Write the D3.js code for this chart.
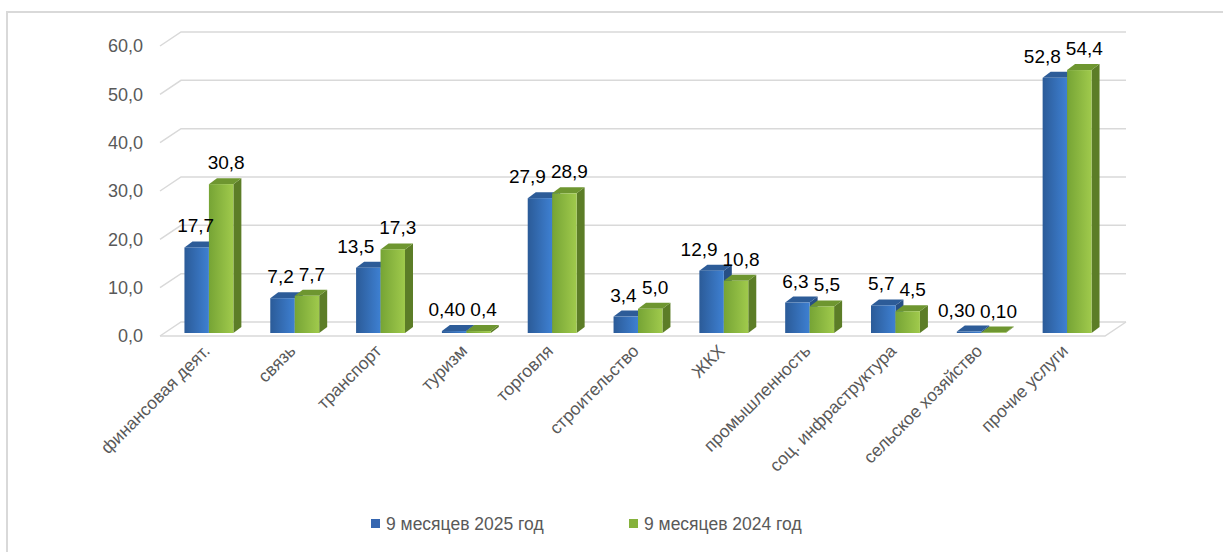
<!DOCTYPE html>
<html>
<head>
<meta charset="utf-8">
<script src="https://cdn.jsdelivr.net/npm/d3@7"></script>
<style>
  body { margin: 0; background: #fff; }
  svg { display: block; font-family: "Liberation Sans", Arial, sans-serif; }
</style>
</head>
<body>
<div id="chart"></div>
<script>
// data
const categories = ["финансовая деят.", "связь", "транспорт", "туризм", "торговля",
  "строительство", "ЖКХ", "промышленность", "соц. инфраструктура",
  "сельское хозяйство", "прочие услуги"];
const series = ["9 месяцев 2025 год", "9 месяцев 2024 год"];
const values2025 = [17.7, 7.2, 13.5, 0.40, 27.9, 3.4, 12.9, 6.3, 5.7, 0.30, 52.8];
const values2024 = [30.8, 7.7, 17.3, 0.4, 28.9, 5.0, 10.8, 5.5, 4.5, 0.10, 54.4];
const labels2025 = ["17,7", "7,2", "13,5", "0,40", "27,9", "3,4", "12,9", "6,3", "5,7", "0,30", "52,8"];
const labels2024 = ["30,8", "7,7", "17,3", "0,4", "28,9", "5,0", "10,8", "5,5", "4,5", "0,10", "54,4"];
const yTicks = [0, 10, 20, 30, 40, 50, 60];

const width = 1223, height = 552;
const depth = { dx: 21, dy: 14 };      // wall depth
const barDepth = { dx: 8, dy: 6 };     // bar depth
const floorFront = 336;

const svg = d3.select("#chart").append("svg")
  .attr("width", width).attr("height", height);

// chart border
svg.append("path")
  .attr("d", "M7,560 V12 H1230")
  .attr("fill", "none").attr("stroke", "#d9d9d9").attr("stroke-width", 2);

const defs = svg.append("defs");
function grad(id, c1, c2) {
  const g = defs.append("linearGradient").attr("id", id)
    .attr("x1", "0%").attr("x2", "100%").attr("y1", "0%").attr("y2", "0%");
  g.append("stop").attr("offset", "0%").attr("stop-color", c1);
  g.append("stop").attr("offset", "100%").attr("stop-color", c2);
}
grad("gBlue", "#2b5b98", "#3e80d2");
grad("gGreen", "#76a435", "#a0ca4c");
const colors = [
  { face: "url(#gBlue)", side: "#274f85", top: "#2d5c98", legend: "#3566b0" },
  { face: "url(#gGreen)", side: "#5c7d27", top: "#6e9630", legend: "#86b23c" }
];

// scales
const y = d3.scaleLinear().domain([0, 60]).range([333, 43]);
const x = d3.scaleBand().domain(categories).range([166, 1110])
  .paddingInner(0.43).paddingOuter(0.215);
const xs = d3.scaleBand().domain(series).range([0, x.bandwidth()]);

// gridlines (back wall + left wall diagonals)
const grid = svg.append("g").attr("stroke", "#d9d9d9").attr("stroke-width", 1.5).attr("fill", "none");
yTicks.forEach(t => {
  const yb = y(t) - 11;
  grid.append("path")
    .attr("d", `M160,${yb + depth.dy} L${160 + depth.dx},${yb} H1126`);
});
grid.append("path").attr("d", `M160,${floorFront} H1105 L1126,${floorFront - depth.dy}`);

// y axis labels
const yAxis = d3.axisLeft(y).tickValues(yTicks).tickSize(0)
  .tickFormat(d => d3.format(".1f")(d).replace(".", ","));
svg.append("g").attr("transform", "translate(146,3)").call(yAxis)
  .call(g => g.select(".domain").remove())
  .call(g => g.selectAll("text").attr("fill", "#595959")
    .style("font-size", "18px").style("font-family", "Liberation Sans, Arial, sans-serif"));

// bars
const rows = categories.map((c, i) => ({ cat: c, vals: [values2025[i], values2024[i]], labs: [labels2025[i], labels2024[i]] }));
const groups = svg.selectAll(".cat").data(rows).join("g").attr("class", "cat")
  .attr("transform", d => `translate(${x(d.cat)},0)`);

series.forEach((s, si) => {
  const bw = xs.bandwidth();
  const x0 = xs(s);
  const y0 = y(0);
  const bars = groups.append("g");
  // side
  bars.append("path").attr("fill", colors[si].side)
    .attr("d", d => {
      const yt = y(d.vals[si]);
      return `M${x0 + bw},${yt} L${x0 + bw + barDepth.dx},${yt - barDepth.dy} L${x0 + bw + barDepth.dx},${y0 - barDepth.dy} L${x0 + bw},${y0} Z`;
    });
  // top
  bars.append("path").attr("fill", colors[si].top)
    .attr("d", d => {
      const yt = y(d.vals[si]);
      return `M${x0},${yt} L${x0 + barDepth.dx},${yt - barDepth.dy} L${x0 + bw + barDepth.dx},${yt - barDepth.dy} L${x0 + bw},${yt} Z`;
    });
  // front
  bars.append("rect").attr("fill", colors[si].face)
    .attr("x", x0).attr("width", bw)
    .attr("y", d => y(d.vals[si]))
    .attr("height", d => y0 - y(d.vals[si]));
});

// value labels
const valueLabels = series.map((s, si) => {
  const off = si === 0 ? -5 : 1;
  return groups.append("text")
    .attr("class", "val" + si)
    .attr("x", xs(s) + xs.bandwidth() / 2 + barDepth.dx / 2 + off)
    .attr("y", d => y(d.vals[si]) - 15)
    .attr("text-anchor", "middle")
    .attr("fill", "#000")
    .style("font-size", "19px")
    .text(d => d.labs[si]);
});

// push the first series label left when it collides with the second
groups.each(function() {
  const g = d3.select(this);
  const a = g.select(".val0"), b = g.select(".val1");
  const ba = a.node().getBBox(), bb = b.node().getBBox();
  const overlapX = ba.x + ba.width + 5 - bb.x;
  const overlapY = Math.min(ba.y + ba.height, bb.y + bb.height) - Math.max(ba.y, bb.y);
  if (overlapX > 0 && overlapY > 0) a.attr("x", +a.attr("x") - overlapX);
});

// category labels
svg.append("g").selectAll("text").data(categories).join("text")
  .attr("transform", d => `translate(${x(d) + x.bandwidth() / 2 + 2},${floorFront + 16}) rotate(-45)`)
  .attr("text-anchor", "end")
  .attr("fill", "#595959")
  .style("font-size", "17.5px")
  .text(d => d);

// legend
const legendX = [371, 629];
const legend = svg.append("g").selectAll("g").data(series).join("g")
  .attr("transform", (d, i) => `translate(${legendX[i]},519)`);
legend.append("rect").attr("width", 9).attr("height", 9)
  .attr("fill", (d, i) => colors[i].legend);
legend.append("text").attr("x", 15).attr("y", 5).attr("dy", "0.35em")
  .attr("fill", "#595959").style("font-size", "17.5px").text(d => d);
</script>
</body>
</html>
